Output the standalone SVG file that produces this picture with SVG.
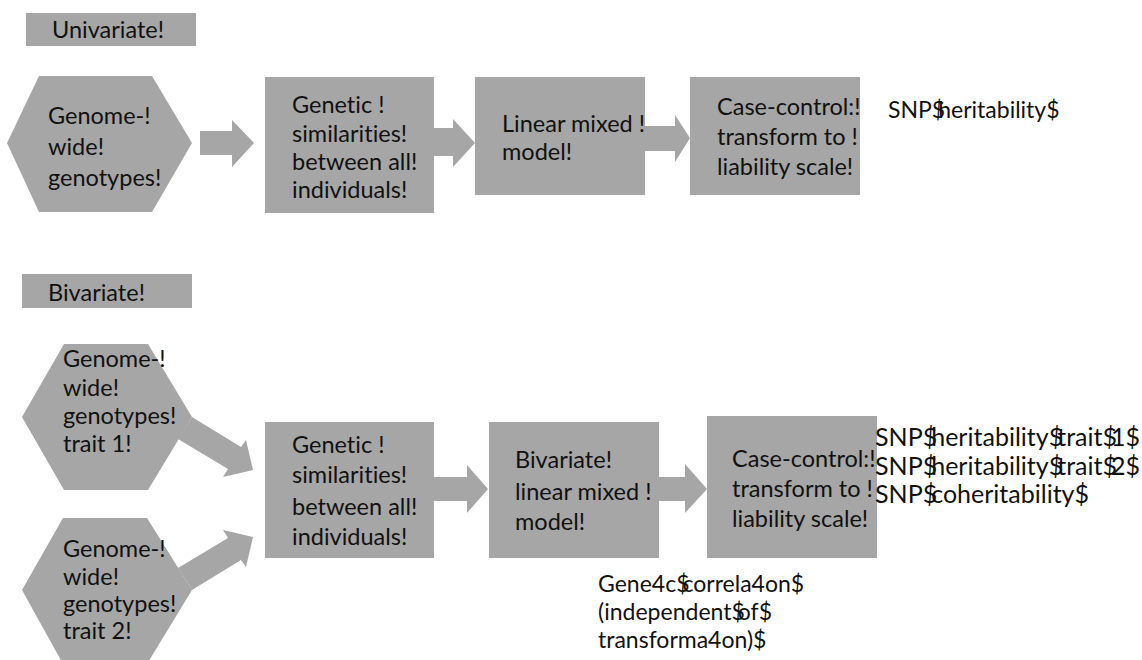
<svg xmlns="http://www.w3.org/2000/svg" width="1142" height="660" viewBox="0 0 1142 660">
<style>
.shape{fill:#a6a6a6}
.t{font-family:Lato,"Open Sans","Liberation Sans",sans-serif;font-size:23.5px;fill:#111;font-variant-ligatures:none}
.c{font-family:Lato,"Open Sans","Liberation Sans",sans-serif;font-size:23px;fill:#111;font-variant-ligatures:none}
.c2{font-family:Lato,"Open Sans","Liberation Sans",sans-serif;font-size:25px;fill:#111;font-variant-ligatures:none}
.arrow{fill:#a6a6a6}
</style>
<rect width="1142" height="660" fill="#fff"/>

<g id="label-univariate">
<rect class="shape" x="26" y="13" width="170" height="33"/>
<text class="t" x="52" y="38">Univariate!</text>
</g>

<g id="uni-genotypes">
<polygon class="shape" points="7,143 39,76 152,76 192,143 152,212 39,212"/>
<text class="t" x="48" y="124">Genome-!</text>
<text class="t" x="48" y="155">wide!</text>
<text class="t" x="48" y="186">genotypes!</text>
</g>

<g id="uni-similarities">
<rect class="shape" x="265" y="77" width="169" height="136"/>
<text class="t" x="292" y="113">Genetic !</text>
<text class="t" x="292" y="142">similarities!</text>
<text class="t" x="292" y="170">between all!</text>
<text class="t" x="292" y="198">individuals!</text>
</g>

<g id="uni-lmm">
<rect class="shape" x="475" y="77" width="170" height="118"/>
<text class="t" x="502" y="132">Linear mixed !</text>
<text class="t" x="502" y="160">model!</text>
</g>

<g id="uni-casecontrol">
<rect class="shape" x="690" y="77" width="170" height="118"/>
<text class="t" x="717" y="115">Case-control:!</text>
<text class="t" x="717" y="145">transform to !</text>
<text class="t" x="717" y="175">liability scale!</text>
</g>

<g id="uni-result">
<text class="c" x="888" y="118" dx="0 0 0 0 -7">SNP$heritability$</text>
</g>

<g id="label-bivariate">
<rect class="shape" x="22" y="274" width="170" height="34"/>
<text class="t" x="48" y="301">Bivariate!</text>
</g>

<g id="connectors">
<polygon class="arrow" points="200,131 232,131 232,120 254,143 232,167 232,155 200,155"/>
<polygon class="arrow" points="434,128 453,128 453,119 475,143 453,167 453,156 434,156"/>
<polygon class="arrow" points="645,126 675,126 675,115 690,138 675,162 675,151 645,151"/>
<polygon class="arrow" points="192,417 241,447 246,440 253,470 223,477 228,469 178,439"/>
<polygon class="arrow" points="192,590 241,560 246,567 253,537 223,530 228,538 178,568"/>
<polygon class="arrow" points="434,477 467,477 467,465 488,489 467,513 467,501 434,501"/>
<polygon class="arrow" points="659,477 685,477 685,464 707,489 685,513 685,501 659,501"/>
</g>

<g id="biv-genotypes-1">
<polygon class="shape" points="22,417 64,344 148,344 192,417 148,490 64,490"/>
<text class="t" x="63" y="367">Genome-!</text>
<text class="t" x="63" y="396">wide!</text>
<text class="t" x="63" y="424">genotypes!</text>
<text class="t" x="63" y="452">trait 1!</text>
</g>

<g id="biv-genotypes-2">
<polygon class="shape" points="22,590 63,518 147,518 192,590 147,664 63,664"/>
<text class="t" x="63" y="557">Genome-!</text>
<text class="t" x="63" y="585">wide!</text>
<text class="t" x="63" y="612">genotypes!</text>
<text class="t" x="63" y="639">trait 2!</text>
</g>

<g id="biv-similarities">
<rect class="shape" x="265" y="422" width="169" height="136"/>
<text class="t" x="292" y="453">Genetic !</text>
<text class="t" x="292" y="483">similarities!</text>
<text class="t" x="292" y="515">between all!</text>
<text class="t" x="292" y="545">individuals!</text>
</g>

<g id="biv-lmm">
<rect class="shape" x="489" y="422" width="170" height="136"/>
<text class="t" x="515" y="468">Bivariate!</text>
<text class="t" x="515" y="500">linear mixed !</text>
<text class="t" x="515" y="530">model!</text>
</g>

<g id="biv-casecontrol">
<rect class="shape" x="707" y="416" width="170" height="142"/>
<text class="t" x="732" y="467">Case-control:!</text>
<text class="t" x="732" y="497">transform to !</text>
<text class="t" x="732" y="527">liability scale!</text>
</g>

<g id="biv-results">
<text class="c2" x="875" y="446" dx="0 0 0 0 -6 0 0 0 0 0 0 0 0 0 0 0 0 -6 0 0 0 0 0 -6">SNP$heritability$trait$1$</text>
<text class="c2" x="875" y="475" dx="0 0 0 0 -6 0 0 0 0 0 0 0 0 0 0 0 0 -6 0 0 0 0 0 -6">SNP$heritability$trait$2$</text>
<text class="c2" x="875" y="503" dx="0 0 0 0 -6">SNP$coheritability$</text>
</g>

<g id="biv-correlation">
<text class="c" x="598" y="592" dx="0 0 0 0 0 0 0 -7">Gene4c$correla4on$</text>
<text class="c" x="598" y="620" dx="0 0 0 0 0 0 0 0 0 0 0 0 0 -7">(independent$of$</text>
<text class="c" x="598" y="648">transforma4on)$</text>
</g>
</svg>
